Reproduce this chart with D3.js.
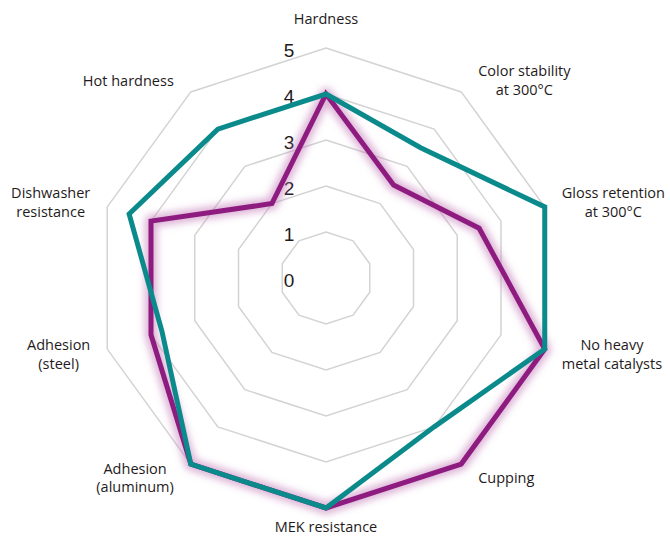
<!DOCTYPE html>
<html>
<head>
<meta charset="utf-8">
<script src="https://cdn.jsdelivr.net/npm/d3@7"></script>
<style>
  body { margin: 0; background: #fff; }
  .axisLabel { font-family: "Open Sans", sans-serif; font-size: 14.5px; fill: #1f1b1c; }
  .tickLabel { font-family: "Liberation Sans", Arial, sans-serif; font-size: 19px; fill: #1f1b1c; }
</style>
</head>
<body>
<script>
// Coating property profile, radar chart of two systems

// Axis categories, clockwise from the top (each entry is a list of text lines)
var categories = [
  ["Hardness"],
  ["Color stability", "at 300°C"],
  ["Gloss retention", "at 300°C"],
  ["No heavy", "metal catalysts"],
  ["Cupping"],
  ["MEK resistance"],
  ["Adhesion", "(aluminum)"],
  ["Adhesion", "(steel)"],
  ["Dishwasher", "resistance"],
  ["Hot hardness"]
];

// Series values
var tealValues = [4, 3.5, 5, 5, 4, 5, 5, 3.75, 4.5, 4];
var purpleValues = [4, 2.5, 3.5, 5, 5, 5, 5, 4, 4, 2];

// Ring levels and their tick labels
var ringLevels = [1, 2, 3, 4, 5];
var tickLabels = [0, 1, 2, 3, 4, 5];

// Page dimensions
var width = 670,
  height = 537,
  cx = 326,
  cy = 278,
  maxRadius = 230;

var svg = d3.select("body")
  .append("svg")
  .attr("width", width)
  .attr("height", height);

var defs = svg.append("defs");
defs.append("filter")
  .attr("id", "glow")
  .attr("x", "-20%").attr("y", "-20%")
  .attr("width", "140%").attr("height", "140%")
  .append("feGaussianBlur")
  .attr("stdDeviation", 3.5);

var chart = svg.append("g")
  .attr("transform", "translate(" + cx + "," + cy + ")");

// Scales: value to radius, index to angle
var r = d3.scaleLinear().domain([0, 5]).range([0, maxRadius]);
var angle = d3.scaleLinear().domain([0, categories.length]).range([0, 2 * Math.PI]);

var radial = d3.lineRadial()
  .angle(function(d, i) { return angle(i); })
  .radius(function(d) { return r(d); })
  .curve(d3.curveLinearClosed);

// Grid rings (decagons)
chart.selectAll(".ring")
  .data(ringLevels)
  .enter().append("path")
  .attr("class", "ring")
  .attr("fill", "none")
  .attr("stroke", "#d3d3d3")
  .attr("stroke-width", 1.5)
  .attr("d", function(level) {
    return radial(categories.map(function() { return level; }));
  });

// Tick labels, left of the top axis
chart.selectAll(".tickLabel")
  .data(tickLabels)
  .enter().append("text")
  .attr("class", "tickLabel")
  .attr("text-anchor", "middle")
  .attr("x", -37)
  .attr("y", function(d) { return -r(d) + 9; })
  .text(function(d) { return d; });

// Purple series with its soft glow
chart.append("path")
  .attr("fill", "none")
  .attr("stroke", "#c27bb8")
  .attr("stroke-opacity", 0.55)
  .attr("stroke-width", 13)
  .attr("stroke-linejoin", "round")
  .attr("filter", "url(#glow)")
  .attr("d", radial(purpleValues));

chart.append("path")
  .attr("fill", "none")
  .attr("stroke", "#8e1b7f")
  .attr("stroke-width", 5)
  .attr("stroke-linejoin", "miter")
  .attr("d", radial(purpleValues));

// Teal series
chart.append("path")
  .attr("fill", "none")
  .attr("stroke", "#0b8a8c")
  .attr("stroke-width", 5)
  .attr("stroke-linejoin", "miter")
  .attr("d", radial(tealValues));

// Axis labels around the outside
var labels = chart.selectAll(".axisLabel")
  .data(categories)
  .enter().append("text")
  .attr("class", "axisLabel")
  .attr("text-anchor", "middle");

labels.each(function(lines, i) {
  var text = d3.select(this),
    a = angle(i),
    sx = Math.sin(a),
    cy0 = -Math.cos(a),
    px = sx * maxRadius,
    py = cy0 * maxRadius,
    lineHeight = 18.5;

  lines.forEach(function(line, k) {
    text.append("tspan")
      .attr("x", 0)
      .attr("dy", k === 0 ? 0 : lineHeight)
      .text(line);
  });

  var w = d3.max(text.selectAll("tspan").nodes(), function(n) { return n.getComputedTextLength(); });
  var blockH = (lines.length - 1) * lineHeight;
  var x, y;
  if (Math.abs(sx) < 0.01) {
    x = 0;
    y = cy0 < 0 ? py - 29 : py + 19;
  } else {
    x = px + (sx > 0 ? 1 : -1) * (17 + w / 2);
    y = py + cy0 * (cy0 > 0 ? 17 : 14);
  }
  // y is the block's vertical centre; first baseline sits just below it
  var firstBaseline = y - blockH / 2 + 5;
  text.selectAll("tspan").attr("x", x);
  text.select("tspan").attr("y", firstBaseline);
});
</script>
</body>
</html>
